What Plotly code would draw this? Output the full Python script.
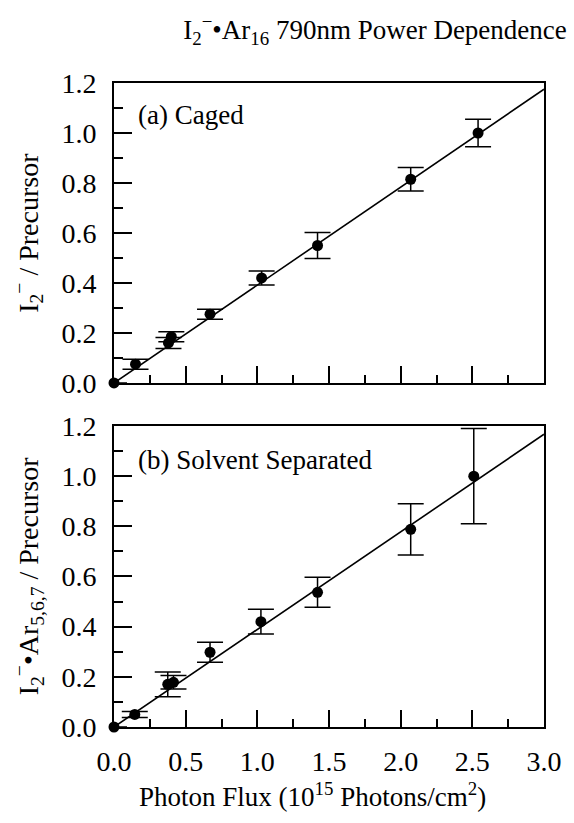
import plotly.graph_objects as go

# Photon flux (10^15 photons/cm^2) for each measurement
flux_caged = [0.0, 0.15, 0.38, 0.40, 0.67, 1.03, 1.42, 2.07, 2.54]
signal_caged = [0.0, 0.075, 0.16, 0.185, 0.275, 0.42, 0.55, 0.815, 1.00]
err_caged = [0.0, 0.02, 0.022, 0.02, 0.02, 0.028, 0.052, 0.047, 0.055]

flux_ss = [0.0, 0.145, 0.375, 0.415, 0.67, 1.025, 1.42, 2.07, 2.51]
signal_ss = [0.0, 0.05, 0.17, 0.178, 0.298, 0.42, 0.537, 0.788, 1.00]
err_ss = [0.0, 0.012, 0.049, 0.027, 0.04, 0.049, 0.06, 0.102, 0.19]

# Linear fits through the origin
fit_x = [0.0, 3.0]
fit_caged = [0.0, 1.175]
fit_ss = [0.0, 1.167]

x_ticks = [0.0, 0.5, 1.0, 1.5, 2.0, 2.5, 3.0]
y_ticks = [0.0, 0.2, 0.4, 0.6, 0.8, 1.0, 1.2]

FONT = "Liberation Serif, Times New Roman, serif"
FS = 28

fig = go.Figure()

def add_panel(xs, ys, errs, fy, xa, ya):
    fig.add_trace(go.Scatter(
        x=fit_x, y=fy, mode="lines", xaxis=xa, yaxis=ya,
        line=dict(color="black", width=1.6), showlegend=False, hoverinfo="skip"))
    fig.add_trace(go.Scatter(
        x=xs, y=ys, mode="markers", xaxis=xa, yaxis=ya,
        marker=dict(color="black", size=11),
        error_y=dict(type="data", array=errs, visible=True,
                     color="black", thickness=1.5, width=13),
        cliponaxis=False, showlegend=False))

add_panel(flux_caged, signal_caged, err_caged, fit_caged, "x2", "y2")
add_panel(flux_ss, signal_ss, err_ss, fit_ss, "x", "y")

axis_common = dict(
    range=[0, 3.0], tickvals=x_ticks, tickformat=".1f",
    showline=True, linecolor="black", linewidth=2, mirror=True,
    ticks="inside", ticklen=17, tickwidth=2, tickcolor="black",
    minor=dict(ticks="inside", ticklen=8, tickwidth=2, tickcolor="black", dtick=0.25, tick0=0),
    showgrid=False, zeroline=False,
    tickfont=dict(family=FONT, size=FS, color="black"),
)
yaxis_common = dict(
    range=[0, 1.2], tickvals=y_ticks, tickformat=".1f",
    showline=True, linecolor="black", linewidth=2, mirror=True,
    ticks="inside", ticklen=18, tickwidth=2, tickcolor="black",
    minor=dict(ticks="inside", ticklen=9, tickwidth=2, tickcolor="black", dtick=0.1, tick0=0),
    showgrid=False, zeroline=False, ticklabelstandoff=10,
    tickfont=dict(family=FONT, size=FS, color="black"),
)

fig.update_layout(
    width=574, height=823,
    margin=dict(l=114, r=26, t=83, b=96),
    paper_bgcolor="white", plot_bgcolor="white",
    font=dict(family=FONT, size=FS, color="black"),
    xaxis=dict(axis_common, anchor="y", ticklabelstandoff=8),
    yaxis=dict(yaxis_common, domain=[0, 0.4674], anchor="x"),
    xaxis2=dict(axis_common, anchor="y2", showticklabels=False, matches="x"),
    yaxis2=dict(yaxis_common, domain=[0.5342, 1.0], anchor="x2"),
    title=dict(
        text="I<sub>2</sub><sup>−</sup>•Ar<sub>16</sub> 790nm Power Dependence",
        x=375 / 574, xanchor="center", y=1 - 30 / 823, yanchor="middle",
        font=dict(family=FONT, size=27, color="black")),
)

fig.add_annotation(
    text="(a) Caged", xref="x2 domain", yref="y2", x=0.05, y=1.072,
    xanchor="left", yanchor="middle", showarrow=False,
    font=dict(family=FONT, size=FS - 1, color="black"))
fig.add_annotation(
    text="(b) Solvent Separated", xref="x domain", yref="y", x=0.05, y=1.064,
    xanchor="left", yanchor="middle", showarrow=False,
    font=dict(family=FONT, size=FS - 1, color="black"))

# Axis titles
fig.add_annotation(
    text="I<sub>2</sub><sup>−</sup> / Precursor", xref="paper", yref="paper",
    x=(28 - 114) / 434, y=(0.5342 + 1.0) / 2, textangle=-90,
    xanchor="center", yanchor="middle", showarrow=False,
    font=dict(family=FONT, size=FS, color="black"))
fig.add_annotation(
    text="I<sub>2</sub><sup>−</sup>•Ar<sub>5,6,7</sub> / Precursor", xref="paper", yref="paper",
    x=(28 - 114) / 434, y=0.4674 / 2, textangle=-90,
    xanchor="center", yanchor="middle", showarrow=False,
    font=dict(family=FONT, size=FS, color="black"))
fig.add_annotation(
    text="Photon Flux (10<sup>15</sup> Photons/cm<sup>2</sup>)", xref="paper", yref="paper",
    x=(314 - 114) / 434, y=(727 - 795) / 644, xanchor="center", yanchor="middle", showarrow=False,
    font=dict(family=FONT, size=27, color="black"))

fig.write_html("out.html")
